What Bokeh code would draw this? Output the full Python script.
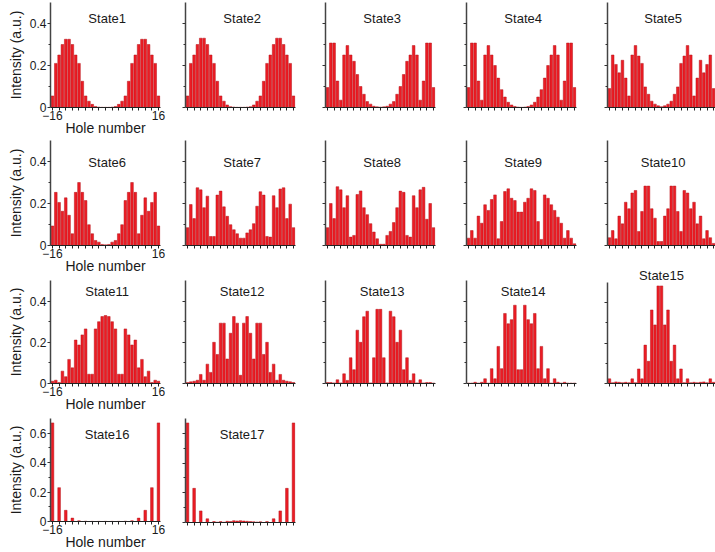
from bokeh.plotting import figure
from bokeh.models import Label, FixedTicker, Range1d
from bokeh.layouts import row, column
from bokeh.embed import file_html
from bokeh.resources import INLINE

holes = list(range(-16, 17))

state1 = [0.055, 0.21, 0.25, 0.30, 0.325, 0.325, 0.30, 0.25, 0.21, 0.125, 0.055,
          0.03, 0.015, 0.005, 0.002, 0.001, 0.001, 0.001, 0.002, 0.005, 0.015, 0.03,
          0.055, 0.125, 0.21, 0.25, 0.30, 0.325, 0.325, 0.30, 0.25, 0.21, 0.055]
state2 = [0.055, 0.21, 0.25, 0.30, 0.33, 0.33, 0.30, 0.25, 0.21, 0.125, 0.055,
          0.03, 0.012, 0.004, 0.002, 0.001, 0.001, 0.001, 0.002, 0.004, 0.012, 0.03,
          0.055, 0.125, 0.21, 0.25, 0.30, 0.33, 0.33, 0.30, 0.25, 0.21, 0.055]
state3 = [0.095, 0.307, 0.307, 0.126, 0.035, 0.25, 0.295, 0.25, 0.22, 0.157, 0.10,
          0.063, 0.028, 0.016, 0.006, 0.003, 0.002, 0.003, 0.006, 0.016, 0.028, 0.063,
          0.10, 0.157, 0.22, 0.25, 0.295, 0.25, 0.035, 0.126, 0.307, 0.307, 0.095]
state4 = [0.095, 0.307, 0.307, 0.126, 0.035, 0.25, 0.295, 0.25, 0.20, 0.14, 0.085,
          0.05, 0.025, 0.012, 0.005, 0.002, 0.001, 0.002, 0.005, 0.012, 0.025, 0.05,
          0.085, 0.14, 0.20, 0.25, 0.295, 0.25, 0.035, 0.126, 0.307, 0.307, 0.095]
state5 = [0.09, 0.25, 0.205, 0.165, 0.225, 0.14, 0.055, 0.25, 0.295, 0.245, 0.21,
          0.098, 0.063, 0.03, 0.016, 0.008, 0.004, 0.008, 0.016, 0.03, 0.063, 0.098,
          0.21, 0.245, 0.295, 0.25, 0.055, 0.14, 0.225, 0.165, 0.205, 0.25, 0.09]
state6 = [0.093, 0.253, 0.205, 0.163, 0.227, 0.144, 0.056, 0.253, 0.30, 0.253, 0.214,
          0.099, 0.056, 0.024, 0.016, 0.005, 0.003, 0.005, 0.016, 0.024, 0.056, 0.099,
          0.214, 0.253, 0.30, 0.253, 0.056, 0.144, 0.227, 0.163, 0.205, 0.253, 0.093]
state7 = [0.085, 0.195, 0.128, 0.275, 0.265, 0.18, 0.235, 0.043, 0.043, 0.24, 0.259,
          0.184, 0.139, 0.099, 0.075, 0.056, 0.035, 0.035, 0.06, 0.075, 0.104, 0.187,
          0.256, 0.24, 0.043, 0.04, 0.237, 0.18, 0.269, 0.275, 0.128, 0.197, 0.085]
state8 = [0.085, 0.20, 0.128, 0.28, 0.265, 0.18, 0.237, 0.04, 0.048, 0.243, 0.26,
          0.18, 0.147, 0.104, 0.064, 0.032, 0.006, 0.006, 0.048, 0.067, 0.109, 0.18,
          0.259, 0.253, 0.048, 0.04, 0.237, 0.18, 0.265, 0.277, 0.125, 0.20, 0.085]
state9 = [0.035, 0.071, 0.035, 0.14, 0.106, 0.194, 0.167, 0.219, 0.241, 0.032, 0.114,
          0.257, 0.27, 0.225, 0.214, 0.159, 0.159, 0.206, 0.225, 0.27, 0.262, 0.114,
          0.029, 0.241, 0.225, 0.194, 0.167, 0.135, 0.106, 0.035, 0.071, 0.035, 0.008]
state10 = [0.037, 0.071, 0.032, 0.14, 0.103, 0.206, 0.175, 0.25, 0.262, 0.067, 0.162,
           0.283, 0.283, 0.175, 0.13, 0.019, 0.019, 0.14, 0.175, 0.283, 0.283, 0.162,
           0.067, 0.262, 0.25, 0.175, 0.206, 0.103, 0.14, 0.032, 0.071, 0.037, 0.01]
state11 = [0.011, 0.016, 0.005, 0.06, 0.033, 0.117, 0.076, 0.211, 0.187, 0.236, 0.265,
           0.045, 0.045, 0.265, 0.30, 0.325, 0.33, 0.325, 0.30, 0.265, 0.045, 0.045,
           0.265, 0.236, 0.187, 0.211, 0.076, 0.117, 0.033, 0.06, 0.005, 0.016, 0.011]
state12 = [0.005, 0.008, 0.011, 0.016, 0.044, 0.016, 0.094, 0.054, 0.2, 0.141, 0.293,
           0.293, 0.119, 0.244, 0.325, 0.293, 0.04, 0.293, 0.325, 0.244, 0.119, 0.293,
           0.293, 0.141, 0.2, 0.054, 0.094, 0.016, 0.044, 0.016, 0.011, 0.008, 0.005]
state13 = [0.005, 0.005, 0.003, 0.018, 0.003, 0.047, 0.015, 0.125, 0.067, 0.259, 0.2,
           0.324, 0.351, 0.003, 0.125, 0.36, 0.36, 0.125, 0.003, 0.351, 0.324, 0.2,
           0.259, 0.067, 0.125, 0.015, 0.047, 0.003, 0.018, 0.003, 0.005, 0.005, 0.002]
state14 = [0.002, 0.002, 0.006, 0.002, 0.006, 0.023, 0.002, 0.072, 0.023, 0.18, 0.072,
           0.34, 0.29, 0.31, 0.38, 0.067, 0.067, 0.38, 0.31, 0.29, 0.34, 0.072,
           0.18, 0.023, 0.072, 0.002, 0.023, 0.006, 0.002, 0.006, 0.002, 0.002, 0.002]
state15 = [0.023, 0.004, 0.008, 0.006, 0.004, 0.006, 0.004, 0.023, 0.004, 0.072, 0.023,
           0.19, 0.11, 0.364, 0.29, 0.483, 0.483, 0.29, 0.364, 0.11, 0.19, 0.023,
           0.072, 0.004, 0.023, 0.004, 0.006, 0.004, 0.006, 0.008, 0.004, 0.023, 0.006]
state16 = [0.67, 0, 0.23, 0, 0.076, 0, 0.023, 0, 0.005, 0, 0.002,
           0, 0.001, 0, 0.001, 0, 0.001, 0, 0.001, 0, 0.001, 0,
           0.002, 0, 0.005, 0, 0.023, 0, 0.076, 0, 0.23, 0, 0.67]
state17 = [0.67, 0, 0.23, 0, 0.078, 0, 0.025, 0, 0.006, 0.002, 0.006,
           0.002, 0.008, 0.006, 0.012, 0.01, 0.012, 0.01, 0.008, 0.006, 0.005, 0.003,
           0.005, 0, 0.006, 0, 0.025, 0, 0.078, 0, 0.23, 0, 0.67]

states = [state1, state2, state3, state4, state5, state6, state7, state8, state9,
          state10, state11, state12, state13, state14, state15, state16, state17]
titles = ["State1", "State2", "State3", "State4", "State5", "State6", "State7",
          "State8", "State9", "State10", "State11", "State12", "State13", "State14",
          "State15", "State16", "State17"]
grid = [[0, 1, 2, 3, 4], [5, 6, 7, 8, 9], [10, 11, 12, 13, 14], [15, 16]]

x_label = "Hole number"
y_label = "Intensity (a.u.)"

FONT = "Liberation Sans"
BAR_FILL = "#ec1c24"
BAR_LINE = "#b5141b"
TXT = "#1a1a1a"

col_w = [179, 140, 141, 141, 114]
col_l = [50, 6, 6, 6, 6]
col_r = [19, 24, 25, 25, 0]
row_h = [138, 139, 139, 136]
row_t = [2, 2, 3, 2]
row_b = [31, 32, 33, 30]
row_ymax = [0.5, 0.5, 0.5, 0.7]
title_off = [16, 22, 11, 16]


def panel(r, c, k):
    h, t, b, off = row_h[r], row_t[r], row_b[r], title_off[r]
    title_above = False
    if c == 4 and r == 1:
        h, b = 127, 20
    if c == 4 and r == 2:
        h, t = 151, 15
        title_above = True
    ymax = row_ymax[r]
    frame_h = h - t - b
    p = figure(width=col_w[c], height=h,
               x_range=Range1d(-16.6, 16.6), y_range=Range1d(0, ymax),
               toolbar_location=None, output_backend="svg",
               min_border_left=col_l[c], min_border_right=col_r[c],
               min_border_top=t, min_border_bottom=b)
    p.outline_line_color = None
    p.background_fill_color = "white"
    p.border_fill_color = "white"
    p.xgrid.visible = False
    p.ygrid.visible = False

    p.vbar(x=holes, top=states[k], width=0.8, bottom=0,
           fill_color=BAR_FILL, line_color=BAR_LINE, line_width=0.5)

    # x axis
    xa = p.xaxis[0]
    xa.ticker = FixedTicker(ticks=[-16, 16], minor_ticks=list(range(-14, 15, 2)))
    xa.axis_line_color = "#222222"
    xa.axis_line_width = 1
    xa.major_tick_in = 0
    xa.major_tick_out = 3
    xa.minor_tick_in = 0
    xa.minor_tick_out = 3
    xa.major_tick_line_color = "#222222"
    xa.minor_tick_line_color = "#222222"
    xa.major_label_text_font = FONT
    xa.major_label_text_font_size = "12px"
    xa.major_label_text_color = TXT
    xa.major_label_standoff = 0

    # y axis
    ya = p.yaxis[0]
    major = [0, 0.2, 0.4] + ([0.6] if r == 3 else [])
    minor = [0.1, 0.3] + ([0.5] if r == 3 else [])
    ya.ticker = FixedTicker(ticks=major, minor_ticks=minor)
    ya.axis_line_color = "#444444"
    ya.axis_line_width = 1.5
    ya.major_tick_in = 0
    ya.major_tick_out = 3
    ya.minor_tick_in = 0
    ya.minor_tick_out = 2
    ya.major_tick_line_color = "#333333"
    ya.minor_tick_line_color = "#333333"
    ya.major_label_text_font = FONT
    ya.major_label_text_font_size = "12px"
    ya.major_label_text_color = TXT
    ya.major_label_standoff = 1

    if c == 0:
        ya.major_label_overrides = {v: ("0" if v == 0 else f"{v:.1f}") for v in major}
        ya.axis_label = y_label
        ya.axis_label_text_font = FONT
        ya.axis_label_text_font_style = "normal"
        ya.axis_label_text_font_size = "14px"
        ya.axis_label_text_color = TXT
        ya.axis_label_standoff = 3
        xa.axis_label = x_label
        xa.axis_label_text_font = FONT
        xa.axis_label_text_font_style = "normal"
        xa.axis_label_text_font_size = "14px"
        xa.axis_label_text_color = TXT
        xa.axis_label_standoff = -3
    else:
        ya.major_label_overrides = {v: "" for v in major}
        xa.major_label_overrides = {-16: "", 16: ""}

    if title_above:
        p.title.text = titles[k]
        p.title.align = "center"
        p.title.text_font = FONT
        p.title.text_font_size = "13px"
        p.title.text_font_style = "normal"
        p.title.text_color = TXT
        p.title.standoff = 0
        p.title.offset = 2
    else:
        ty = ymax - off / frame_h * ymax
        p.add_layout(Label(x=0.5, y=ty, text=titles[k], text_align="center",
                           text_baseline="middle", text_font=FONT,
                           text_font_size="13px", text_color=TXT))
    return p


columns = []
for c in range(5):
    figs = [panel(r, c, grid[r][c]) for r in range(4) if c < len(grid[r])]
    columns.append(column(*figs, spacing=0))
layout = row(*columns, spacing=0)

open("out.html", "w").write(file_html(layout, INLINE))
